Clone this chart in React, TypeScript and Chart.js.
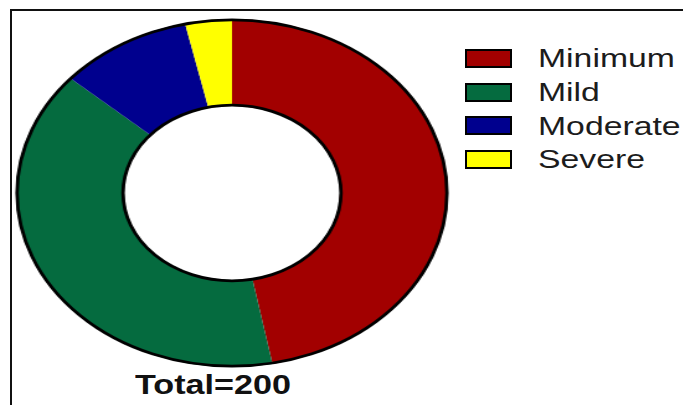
import React, { useEffect, useRef } from "react";
import { Chart, registerables } from "chart.js";

Chart.register(...registerables);

const categories = ["Minimum", "Mild", "Moderate", "Severe"];
const counts = [94, 79, 20, 7];
const colors = ["#A20000", "#056B3F", "#00008E", "#FFFF00"];
const totalLabel = "Total=200";

const outlinePlugin = {
  id: "ringOutline",
  afterDatasetsDraw(chart: any) {
    const meta = chart.getDatasetMeta(0);
    const arc = meta.data[0];
    if (!arc) return;
    const { x, y, outerRadius, innerRadius } = arc.getProps(
      ["x", "y", "outerRadius", "innerRadius"],
      true
    );
    const ctx = chart.ctx;
    ctx.save();
    ctx.strokeStyle = "#000";
    ctx.lineWidth = 2.8;
    ctx.beginPath();
    ctx.arc(x, y, outerRadius - 0.8, 0, Math.PI * 2);
    ctx.stroke();
    ctx.beginPath();
    ctx.arc(x, y, innerRadius + 0.8, 0, Math.PI * 2);
    ctx.stroke();
    ctx.restore();
  },
};

function Doughnut() {
  const ref = useRef<HTMLCanvasElement>(null);
  useEffect(() => {
    if (!ref.current) return;
    const chart = new Chart(ref.current, {
      type: "doughnut",
      data: {
        labels: categories,
        datasets: [
          {
            data: counts,
            backgroundColor: colors,
            borderWidth: 0,
          },
        ],
      },
      options: {
        responsive: false,
        animation: false,
        cutout: "50%",
        layout: { padding: 2 },
        plugins: {
          legend: { display: false },
          tooltip: { enabled: false },
        },
      },
      plugins: [outlinePlugin],
    });
    return () => chart.destroy();
  }, []);
  return <canvas ref={ref} width={352} height={352} />;
}

export default function App() {
  return (
    <div
      style={{
        position: "fixed",
        left: 0,
        top: 0,
        width: 683,
        height: 405,
        background: "#fff",
        overflow: "hidden",
        fontFamily: "Arial, 'Liberation Sans', sans-serif",
      }}
    >
      <div
        style={{
          position: "absolute",
          left: 10,
          top: 9,
          width: 720,
          height: 440,
          borderTop: "2px solid #111",
          borderLeft: "2px solid #111",
        }}
      />
      <div
        style={{
          position: "absolute",
          left: 56,
          top: 17,
          width: 352,
          height: 352,
          transform: "scaleX(1.241)",
          transformOrigin: "176px 176px",
        }}
      >
        <Doughnut />
      </div>
      {categories.map((c, i) => (
        <React.Fragment key={c}>
          <div
            style={{
              position: "absolute",
              left: 465,
              top: 49 + i * 33.6,
              width: 47,
              height: 19,
              boxSizing: "border-box",
              border: "2.5px solid #000",
              background: colors[i],
            }}
          />
          <div
            style={{
              position: "absolute",
              left: 538,
              top: 46.3 + i * 33.6,
              fontSize: 25,
              lineHeight: "25px",
              color: "#1c1c1c",
              whiteSpace: "nowrap",
              transform: "scaleX(1.35)",
              transformOrigin: "0 0",
            }}
          >
            {c}
          </div>
        </React.Fragment>
      ))}
      <div
        style={{
          position: "absolute",
          left: 135,
          top: 371,
          fontSize: 28,
          lineHeight: "28px",
          fontWeight: "bold",
          color: "#111",
          whiteSpace: "nowrap",
          transform: "scaleX(1.22)",
          transformOrigin: "0 0",
        }}
      >
        {totalLabel}
      </div>
    </div>
  );
}
